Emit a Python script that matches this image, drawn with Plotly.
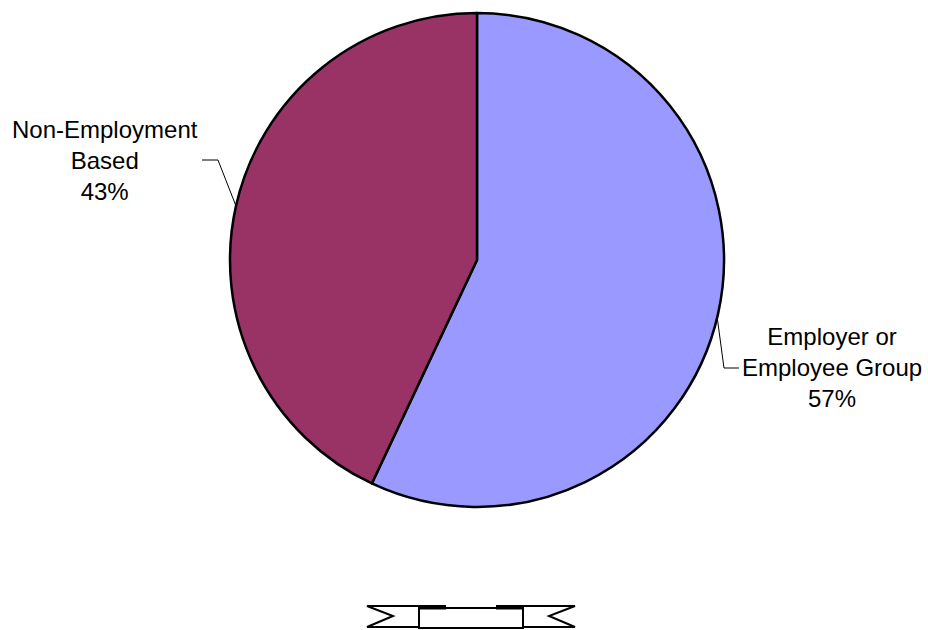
import plotly.graph_objects as go

# Coverage source shares (percent)
labels = ["Employer or<br>Employee Group", "Non-Employment<br>Based"]
values = [57, 43]
colors = ["#9999FF", "#993366"]

W, H = 928, 630


def px(x):
    return x / W


def py(y):
    return 1 - y / H


def path(points, close=False):
    d = "M " + " L ".join(f"{px(x):.5f},{py(y):.5f}" for x, y in points)
    return d + (" Z" if close else "")


total = sum(values)

fig = go.Figure(
    go.Pie(
        labels=labels,
        values=values,
        marker=dict(colors=colors, line=dict(color="black", width=2.5)),
        sort=False,
        direction="clockwise",
        rotation=0,
        textinfo="none",
        hoverinfo="label+percent",
        showlegend=False,
        domain=dict(x=[px(230), px(724)], y=[py(507), py(13)]),
    )
)

font = dict(family="Liberation Sans, Arial, sans-serif", size=24, color="black")

# Slice labels with leader lines
label_pos = [(832, 367), (105, 160)]
for lab, val, (x, y) in zip(labels, values, label_pos):
    fig.add_annotation(
        x=px(x), y=py(y), xref="paper", yref="paper",
        text=f"{lab}<br>{round(val / total * 100)}%",
        showarrow=False, font=font, align="center",
        xanchor="center", yanchor="middle",
    )

line = dict(color="black", width=1)
shapes = [
    dict(type="path", path=path([(717, 316), (724, 368), (739, 368)]), line=line),
    dict(type="path", path=path([(202, 160), (218, 160), (236, 206)]), line=line),
]

# Ribbon ornament below the pie
thick = dict(color="black", width=2)
shapes += [
    dict(type="path", path=path([(367, 606), (420, 606), (420, 627), (367, 627), (393, 616)], close=True),
         line=thick, fillcolor="white"),
    dict(type="path", path=path([(575, 606), (522, 606), (522, 627), (575, 627), (549, 616)], close=True),
         line=thick, fillcolor="white"),
    dict(type="path", path=path([(419, 608), (523, 608), (523, 628), (419, 628)], close=True),
         line=thick, fillcolor="white"),
    dict(type="path", path=path([(419, 605), (446, 605), (446, 609.5), (419, 609.5)], close=True),
         line=dict(width=0), fillcolor="black"),
    dict(type="path", path=path([(496, 605), (523, 605), (523, 609.5), (496, 609.5)], close=True),
         line=dict(width=0), fillcolor="black"),
]
for s in shapes:
    s.update(xref="paper", yref="paper")

fig.update_layout(
    width=W, height=H,
    margin=dict(l=0, r=0, t=0, b=0),
    paper_bgcolor="white", plot_bgcolor="white",
    shapes=shapes,
)

fig.write_html("out.html")
